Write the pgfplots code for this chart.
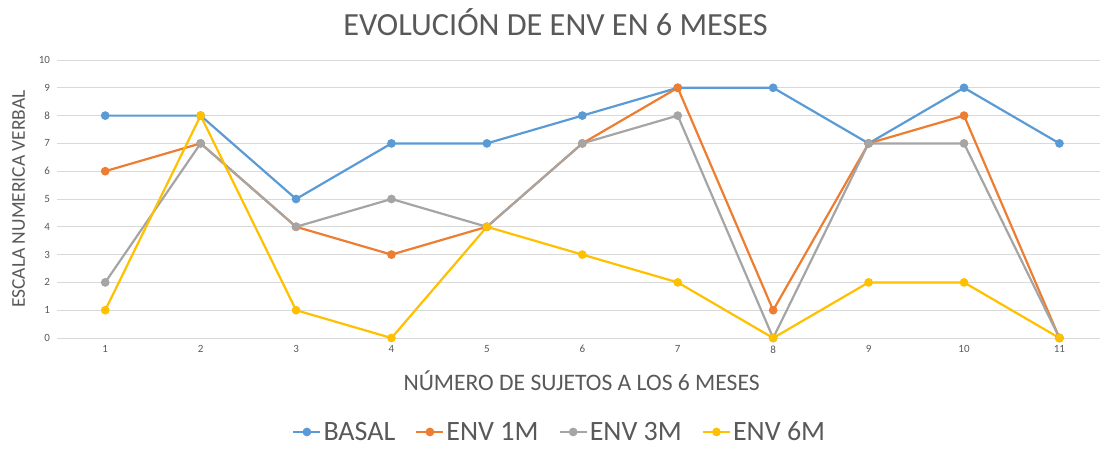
\documentclass[border=0pt]{standalone}
\usepackage{fontspec}
\setmainfont{Carlito}
\usepackage{pgfplots}
\pgfplotsset{compat=1.18}
\definecolor{cBasal}{HTML}{5B9BD5}
\definecolor{cOne}{HTML}{ED7D31}
\definecolor{cThree}{HTML}{A5A5A5}
\definecolor{cSix}{HTML}{FFC000}
\definecolor{cGrid}{HTML}{D9D9D9}
\definecolor{cText}{HTML}{595959}
\begin{document}
\begin{tikzpicture}
\useasboundingbox (-57.5pt,-110pt) rectangle (1043.5pt,338pt);
\begin{axis}[
  at={(0,0)}, anchor=south west,
  scale only axis,
  width=1042pt, height=278pt,
  xmin=0.5, xmax=11.42, ymin=0, ymax=10,
  xtick={1,...,11}, ytick={0,...,10},
  /pgf/number format/assume math mode=true,
  tick label style={font=\fontsize{11}{13}\selectfont, text=cText},
  major tick length=0pt,
  ymajorgrids, grid style={cGrid, line width=0.9pt},
  axis x line*=bottom,
  axis y line*=left,
  y axis line style={draw=none},
  x axis line style={draw=cGrid, line width=0.9pt},
  xticklabel style={yshift=-4pt},
  yticklabel style={xshift=-4pt},
  tick style={draw=none},
  xlabel={NÚMERO DE SUJETOS A LOS 6 MESES},
  ylabel={ESCALA NUMERICA VERBAL},
  every axis x label/.style={at={(0.503,0)}, yshift=-43pt, anchor=center, font=\fontsize{23.6}{27}\selectfont, text=cText},
  every axis y label/.style={at={(-39pt,0.5)}, rotate=90, anchor=center, font=\fontsize{19.5}{22}\selectfont, text=cText},
  title={EVOLUCIÓN DE ENV EN 6 MESES},
  every axis title/.style={at={(0.478,1.137)}, anchor=center, font=\fontsize{32.3}{38}\selectfont, text=cText},
  legend columns=4,
  legend style={at={(0.482,-0.338)}, anchor=center, draw=none, fill=none,
    font=\fontsize{28}{31}\selectfont, text=cText,
    /tikz/every even column/.append style={column sep=18pt}},
  legend image code/.code={\draw[mark repeat=2,mark phase=2,#1] plot coordinates {(0pt,0pt)(13.5pt,0pt)(27pt,0pt)};},
  every axis plot/.append style={line width=2.2pt, mark=*, mark size=3.2pt, mark options={solid}},
]
\addplot[cBasal] coordinates {(1,8)(2,8)(3,5)(4,7)(5,7)(6,8)(7,9)(8,9)(9,7)(10,9)(11,7)};
\addplot[cOne] coordinates {(1,6)(2,7)(3,4)(4,3)(5,4)(6,7)(7,9)(8,1)(9,7)(10,8)(11,0)};
\addplot[cThree] coordinates {(1,2)(2,7)(3,4)(4,5)(5,4)(6,7)(7,8)(8,0)(9,7)(10,7)(11,0)};
\addplot[cSix] coordinates {(1,1)(2,8)(3,1)(4,0)(5,4)(6,3)(7,2)(8,0)(9,2)(10,2)(11,0)};
\legend{BASAL, ENV 1M, ENV 3M, ENV 6M}
\end{axis}
\end{tikzpicture}
\end{document}
